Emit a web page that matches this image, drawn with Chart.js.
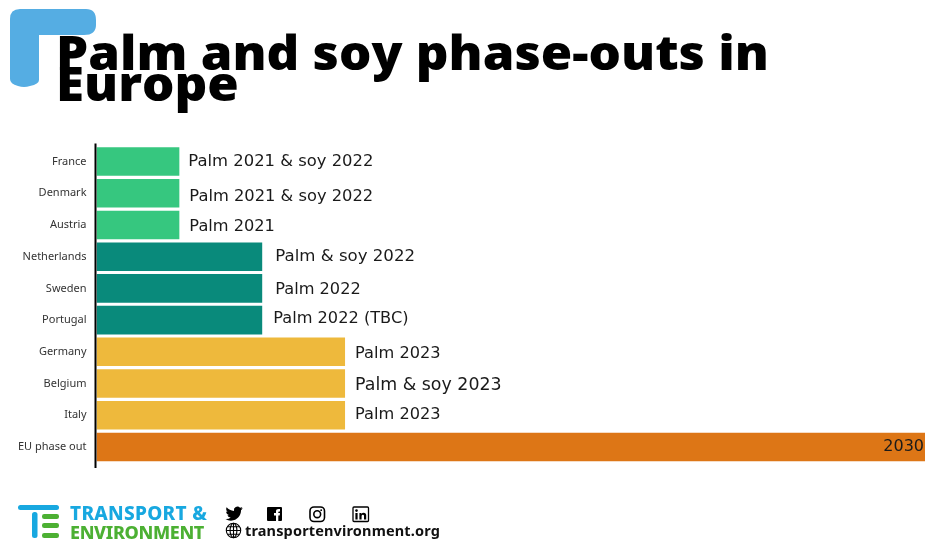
<!DOCTYPE html>
<html>
<head>
<meta charset="utf-8">
<title>Palm and soy phase-outs in Europe</title>
<script src="https://cdn.jsdelivr.net/npm/chart.js@4/dist/chart.umd.min.js"></script>
<style>
    html, body { margin: 0; padding: 0; background: #fff; }
    #page { position: relative; width: 925px; height: 541px; overflow: hidden; }
    #page canvas { position: absolute; left: 0; top: 0; }
    #corner { position: absolute; left: 0; top: 0; }
    #heading {
        position: absolute; left: 56px; top: 36px; margin: 0; width: 760px;
        font: 800 48px/31px "Open Sans", sans-serif; color: #000;
        transform: scaleX(1.062); transform-origin: left top; white-space: nowrap;
    }
    .brand { position: absolute; left: 70px; font: 800 19px/20px "Noto Sans", sans-serif; white-space: nowrap; }
    #site { position: absolute; left: 245px; top: 520px; font: 700 14.5px/20px "Noto Sans", sans-serif; letter-spacing: 0.15px; color: #111; white-space: nowrap; }
    #icons { position: absolute; left: 0; top: 490px; }
</style>
</head>
<body>
<div id="page">
    <canvas id="phaseChart" width="925" height="541"></canvas>
    <svg id="corner" width="110" height="95">
        <path d="M20 9H86Q96 9 96 20V25Q96 35 84 35H39V80Q39 84 30 86Q24 88 18 86Q10 84 10 79V19Q10 9 20 9Z" fill="#55ade3"/>
    </svg>
    <h1 id="heading">Palm and soy phase-outs in<br>Europe</h1>
    <svg id="icons" width="400" height="51">
        <!-- T&E mark -->
        <rect x="18" y="15" width="41" height="5" rx="2.5" fill="#18a8e0"/>
        <rect x="32" y="22" width="5.5" height="26" rx="2.5" fill="#18a8e0"/>
        <rect x="42" y="24" width="17" height="5" rx="2.2" fill="#4cb033"/>
        <rect x="42" y="33" width="17" height="5" rx="2.2" fill="#4cb033"/>
        <rect x="42" y="43" width="17" height="5" rx="2.2" fill="#4cb033"/>
        <!-- social icons -->
        <g transform="translate(225.5 15) scale(0.72)">
            <path d="M23.953 4.57a10 10 0 01-2.825.775 4.958 4.958 0 002.163-2.723c-.951.555-2.005.959-3.127 1.184a4.92 4.92 0 00-8.384 4.482C7.69 8.095 4.067 6.13 1.64 3.162a4.822 4.822 0 00-.666 2.475c0 1.71.87 3.213 2.188 4.096a4.904 4.904 0 01-2.228-.616v.06a4.923 4.923 0 003.946 4.827 4.996 4.996 0 01-2.212.085 4.936 4.936 0 004.604 3.417 9.867 9.867 0 01-6.102 2.105c-.39 0-.779-.023-1.17-.067a13.995 13.995 0 007.557 2.209c9.053 0 13.998-7.496 13.998-13.985 0-.21 0-.42-.015-.63A9.935 9.935 0 0024 4.59z" fill="#000"/>
        </g>
        <rect x="267" y="17" width="15" height="14" rx="1" fill="#000"/>
        <path d="M276 31V25.5H274V23H276V21.3Q276 19 278.6 19H280V21.4H279Q278.3 21.4 278.3 22.2V23H280L279.7 25.5H278.3V31Z" fill="#fff"/>
        <rect x="310" y="17" width="14.5" height="14.5" rx="4" fill="none" stroke="#000" stroke-width="1.6"/>
        <circle cx="317.2" cy="24.2" r="3.4" fill="none" stroke="#000" stroke-width="1.6"/>
        <circle cx="321.2" cy="20.2" r="0.9" fill="#000"/>
        <rect x="353" y="17" width="15.5" height="14.5" rx="1" fill="none" stroke="#000" stroke-width="1.3"/>
        <rect x="355.4" y="23" width="2.2" height="6.5" fill="#000"/>
        <circle cx="356.5" cy="20.6" r="1.3" fill="#000"/>
        <path d="M359.4 23H361.4V24Q362.2 22.8 363.6 22.8Q366.2 22.8 366.2 25.6V29.5H364V26Q364 24.8 363 24.8Q361.6 24.8 361.6 26.2V29.5H359.4Z" fill="#000"/>
        <!-- globe -->
        <g fill="none" stroke="#000" stroke-width="1.1">
            <circle cx="233.5" cy="40.5" r="7.2"/>
            <ellipse cx="233.5" cy="40.5" rx="3.4" ry="7.2"/>
            <path d="M233.5 33.3V47.7M226.3 40.5H240.7M227.4 36.8H239.6M227.4 44.2H239.6"/>
        </g>
    </svg>
    <div class="brand" style="top: 503px; color: #18a8e0; letter-spacing: 0.3px;">TRANSPORT &amp;</div>
    <div class="brand" style="top: 522px; color: #4cb033; font-size: 18px; letter-spacing: -0.35px;">ENVIRONMENT</div>
    <div id="site">transportenvironment.org</div>
</div>
<script>
    const countries = ["France", "Denmark", "Austria", "Netherlands", "Sweden", "Portugal", "Germany", "Belgium", "Italy", "EU phase out"];
    const phaseOutYears = [2021, 2021, 2021, 2022, 2022, 2022, 2023, 2023, 2023, 2030];
    const phaseOutLabels = [
        "Palm 2021 & soy 2022", "Palm 2021 & soy 2022", "Palm 2021",
        "Palm & soy 2022", "Palm 2022", "Palm 2022 (TBC)",
        "Palm 2023", "Palm & soy 2023", "Palm 2023", "2030"
    ];
    const barColors = ["#36c77f", "#36c77f", "#36c77f", "#098a7b", "#098a7b", "#098a7b", "#eeb93c", "#eeb93c", "#eeb93c", "#dd7616"];

    // the labels were hand placed, so each one gets its own small nudge and size
    const labelNudgeX = [9, 10, 10, 13, 13, 11, 10, 10, 10, 0];
    const labelNudgeY = [0, 3.5, 1.5, 0, 1.5, -1.5, 1.5, 1.5, -0.5, 0];
    const labelSizes = [16.4, 16.3, 16.2, 16.6, 16.2, 16.2, 16.2, 17.4, 16.2, 16];

    const phaseLabelsPlugin = {
        id: "phaseLabels",
        afterDatasetsDraw: function (chart) {
            const ctx = chart.ctx;
            const meta = chart.getDatasetMeta(0);
            ctx.save();
            ctx.textBaseline = "middle";
            ctx.fillStyle = "#1a1a1a";
            meta.data.forEach(function (bar, i) {
                const last = i === phaseOutLabels.length - 1;
                ctx.font = labelSizes[i] + 'px "DejaVu Sans", sans-serif';
                ctx.textAlign = last ? "right" : "left";
                ctx.fillText(phaseOutLabels[i], last ? bar.x - 1 : bar.x + labelNudgeX[i], bar.y + labelNudgeY[i]);
            });
            ctx.restore();
        }
    };

    // vertical axis line runs a little past the bars at both ends
    const axisLinePlugin = {
        id: "axisLine",
        afterDraw: function (chart) {
            const ctx = chart.ctx;
            const area = chart.chartArea;
            ctx.save();
            ctx.strokeStyle = "#000";
            ctx.lineWidth = 2;
            ctx.beginPath();
            ctx.moveTo(area.left - 1, area.top - 2);
            ctx.lineTo(area.left - 1, area.bottom + 5);
            ctx.stroke();
            ctx.restore();
        }
    };

    new Chart(document.getElementById("phaseChart"), {
        type: "bar",
        data: {
            labels: countries,
            datasets: [{
                data: phaseOutYears,
                base: 2020,
                backgroundColor: barColors,
                barPercentage: 0.9,
                categoryPercentage: 1
            }]
        },
        options: {
            indexAxis: "y",
            responsive: false,
            animation: false,
            layout: { padding: { top: 145.6, bottom: 78.1, left: 0, right: 0 } },
            plugins: { legend: { display: false }, tooltip: { enabled: false } },
            scales: {
                x: { display: false, min: 2020, max: 2030 },
                y: {
                    grid: { display: false },
                    border: { display: false },
                    afterFit: function (scale) { scale.width = 96.5; },
                    ticks: {
                        color: "#333",
                        padding: 2,
                        autoSkip: false,
                        font: { family: '"Noto Sans", sans-serif', size: 11 }
                    }
                }
            }
        },
        plugins: [phaseLabelsPlugin, axisLinePlugin]
    });
</script>
</body>
</html>
